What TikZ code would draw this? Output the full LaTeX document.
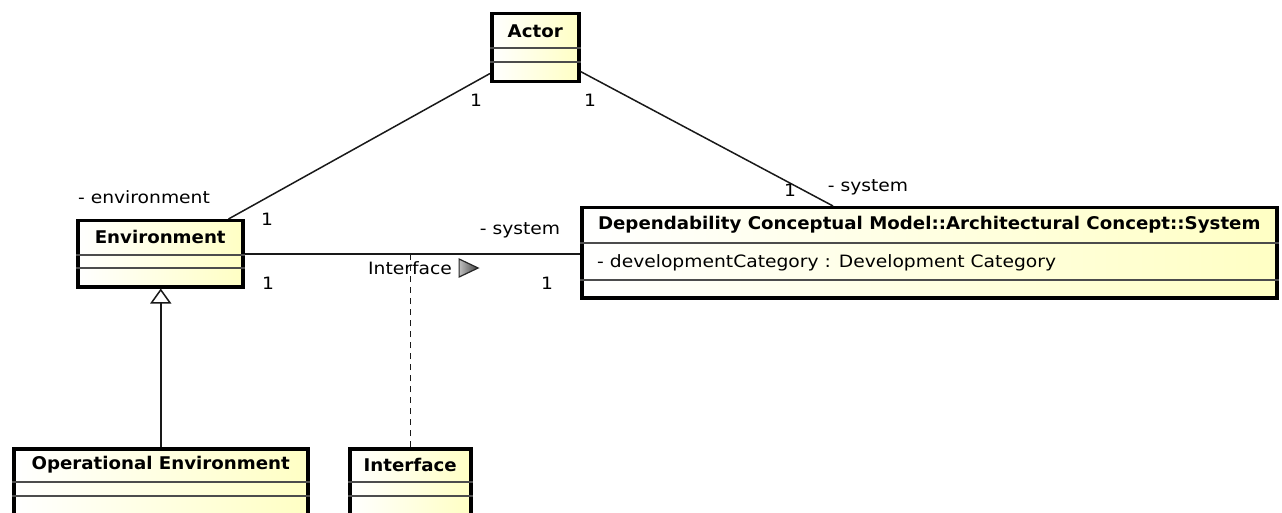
\documentclass[tikz,border=0pt]{standalone}
\usepackage{fontspec}
\setmainfont{DejaVu Sans}
\newfontfamily\classfont{DejaVu Sans}[FakeStretch=1.04]
\newfontfamily\labelfont{DejaVu Sans}[FakeStretch=1.1]
\usetikzlibrary{positioning,arrows.meta}
\definecolor{classyellow}{RGB}{255,255,196}
\begin{document}
\begin{tikzpicture}[x=1pt,y=-1pt,
        classbox/.style={draw=black, line width=3.5pt, left color=white, right color=classyellow, anchor=north west, inner sep=0pt},
        classname/.style={font=\classfont\bfseries\fontsize{17.5}{20}\selectfont, inner sep=0pt},
        attrtext/.style={font=\labelfont\fontsize{17}{20}\selectfont, inner sep=0pt, anchor=west},
        compline/.style={draw=black!70, line width=1.2pt},
        assoc/.style={draw=black!90, line width=1.5pt},
        mult/.style={font=\labelfont\fontsize{17}{20}\selectfont, inner sep=0pt}]
        \useasboundingbox (0,0) rectangle (1282,513);
        \clip (0,0) rectangle (1282,513);

        % Classes
        \node[classbox, minimum width=87pt, minimum height=68pt] (actor) at (490,12) {};
        \draw[compline] ([yshift=-36pt]actor.north west) -- ([yshift=-36pt]actor.north east);
        \draw[compline] ([yshift=-50pt]actor.north west) -- ([yshift=-50pt]actor.north east);
        \node[classname] (actorname) at ([yshift=-19pt]actor.north) {Actor};

        \node[classbox, minimum width=165pt, minimum height=66pt] (env) at (76,219) {};
        \draw[compline] ([yshift=-36pt]env.north west) -- ([yshift=-36pt]env.north east);
        \draw[compline] ([yshift=-49pt]env.north west) -- ([yshift=-49pt]env.north east);
        \node[classname] (envname) at ([yshift=-18pt]env.north) {Environment};

        \node[classbox, minimum width=695pt, minimum height=90pt] (system) at (580,206) {};
        \draw[compline] ([yshift=-37pt]system.north west) -- ([yshift=-37pt]system.north east);
        \draw[compline] ([yshift=-74pt]system.north west) -- ([yshift=-74pt]system.north east);
        \node[classname] (systemname) at ([yshift=-19pt]system.north) {Dependability Conceptual Model::Architectural Concept::System};
        \node[attrtext] (systemattr) at ([xshift=17pt,yshift=-57pt]system.north west) {- developmentCategory : Development Category};

        \node[classbox, minimum width=294pt, minimum height=93pt] (openv) at (12,447) {};
        \draw[compline] ([yshift=-35pt]openv.north west) -- ([yshift=-35pt]openv.north east);
        \draw[compline] ([yshift=-49pt]openv.north west) -- ([yshift=-49pt]openv.north east);
        \node[classname] (openvname) at ([yshift=-18pt]openv.north) {Operational Environment};

        \node[classbox, minimum width=121pt, minimum height=93pt] (iface) at (348,447) {};
        \draw[compline] ([yshift=-35pt]iface.north west) -- ([yshift=-35pt]iface.north east);
        \draw[compline] ([yshift=-49pt]iface.north west) -- ([yshift=-49pt]iface.north east);
        \node[classname] (ifacename) at ([yshift=-18pt]iface.north) {Interface};

        % Associations
        \draw[assoc] ([yshift=10pt]actor.south west) -- ([xshift=-16pt]env.north east);
        \draw[assoc] ([yshift=12pt]actor.south east) -- ([xshift=253pt]system.north west);
        \draw[assoc] (env.east) -- (env.east -| system.west);
        \draw[assoc, -{Triangle[open, width=21pt, length=15pt]}] (openv.north) -- (openv.north |- env.south);
        \coordinate (ifacejoin) at (iface.north |- env.east);
        \draw[assoc, dash pattern=on 6pt off 5pt] (iface.north) -- (ifacejoin);

        % Labels
        \node[mult] (m1) at (476,100) {1};
        \node[mult] (m2) at (590,100) {1};
        \node[mult] (envrole) at (144,197) {- environment};
        \node[mult] (m3) at (267,219) {1};
        \node[mult] (m4) at (268,283) {1};
        \node[mult] (sysrole1) at (520,230) {- system};
        \node[mult] (m5) at (547,283) {1};
        \node[mult] (m6) at (790,190) {1};
        \node[mult] (sysrole2) at (868,187) {- system};
        \node[mult, anchor=west] (ifacelabel) at (368,268) {Interface};
        \draw[left color=gray!50, right color=black!75, draw=black!85, line width=1.2pt]
            ([xshift=7pt,yshift=9pt]ifacelabel.east) -- ++(0,18) -- ++(19,-9) -- cycle;
    \end{tikzpicture}
\end{document}
